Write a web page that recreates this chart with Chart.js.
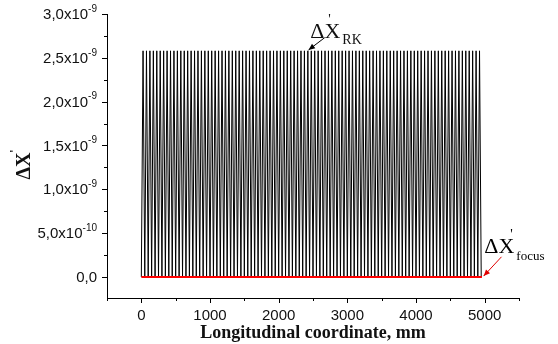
<!DOCTYPE html>
<html>
<head>
<meta charset="UTF-8">
<title>Delta X</title>
<script src="https://cdn.jsdelivr.net/npm/chart.js"></script>
<style>
body { margin: 0; background: #fff; }
</style>
</head>
<body>
<canvas id="myChart" width="558" height="344"></canvas>
<script>
// x ticks (mm)
const coordTicks = [0, 1000, 2000, 3000, 4000, 5000];
const coordMinor = [-500, 500, 1500, 2500, 3500, 4500, 5500];
// y ticks
const yTicks = [0, 5e-10, 1e-9, 1.5e-9, 2e-9, 2.5e-9, 3e-9];
const yTickBase = ['0,0', '5,0x10', '1,0x10', '1,5x10', '2,0x10', '2,5x10', '3,0x10'];
const yTickExp = ['', '-10', '-9', '-9', '-9', '-9', '-9'];
const yMinor = [2.5e-10, 7.5e-10, 1.25e-9, 1.75e-9, 2.25e-9, 2.75e-9];

// RK curve: lows and highs of the oscillation (mm)
const troughMm = [
  0, 50, 100, 150, 200, 250, 300, 350, 400, 450,
  500, 550, 600, 650, 700, 750, 800, 850, 900, 950,
  1000, 1050, 1100, 1150, 1200, 1250, 1300, 1350, 1400, 1450,
  1500, 1550, 1600, 1650, 1700, 1750, 1800, 1850, 1900, 1950,
  2000, 2050, 2100, 2150, 2200, 2250, 2300, 2350, 2400, 2450,
  2500, 2550, 2600, 2650, 2700, 2750, 2800, 2850, 2900, 2950,
  3000, 3050, 3100, 3150, 3200, 3250, 3300, 3350, 3400, 3450,
  3500, 3550, 3600, 3650, 3700, 3750, 3800, 3850, 3900, 3950,
  4000, 4050, 4100, 4150, 4200, 4250, 4300, 4350, 4400, 4450,
  4500, 4550, 4600, 4650, 4700, 4750, 4800, 4850, 4900, 4950
];
const crestMm = [
  25, 75, 125, 175, 225, 275, 325, 375, 425, 475,
  525, 575, 625, 675, 725, 775, 825, 875, 925, 975,
  1025, 1075, 1125, 1175, 1225, 1275, 1325, 1375, 1425, 1475,
  1525, 1575, 1625, 1675, 1725, 1775, 1825, 1875, 1925, 1975,
  2025, 2075, 2125, 2175, 2225, 2275, 2325, 2375, 2425, 2475,
  2525, 2575, 2625, 2675, 2725, 2775, 2825, 2875, 2925, 2975,
  3025, 3075, 3125, 3175, 3225, 3275, 3325, 3375, 3425, 3475,
  3525, 3575, 3625, 3675, 3725, 3775, 3825, 3875, 3925, 3975,
  4025, 4075, 4125, 4175, 4225, 4275, 4325, 4375, 4425, 4475,
  4525, 4575, 4625, 4675, 4725, 4775, 4825, 4875, 4925
];
const rkTrough = 0;
const rkCrest = 2.58e-9;

// focus curve
const focusMm = [0, 4960];
const focusVal = [0, 0];

let rkPoints = [];
troughMm.forEach(function(x, i){
  rkPoints.push({x: x, y: rkTrough});
  if (i < crestMm.length) rkPoints.push({x: crestMm[i], y: rkCrest});
});
const focusPoints = focusMm.map((x, i) => ({x: x, y: focusVal[i]}));

const SANS = '"Liberation Sans", Arial, sans-serif';
const SERIF = '"Liberation Serif", "Times New Roman", serif';

// draws ticks, labels, titles and the two arrows
const decor = {
  id: 'decor',
  afterDraw(chart) {
    const ctx = chart.ctx;
    const x = chart.scales.x, y = chart.scales.y;
    const a = chart.chartArea;
    ctx.save();
    ctx.strokeStyle = '#000';
    ctx.lineWidth = 1;
    ctx.beginPath();
    coordTicks.forEach(v => { let px = Math.round(x.getPixelForValue(v)) + 0.5; ctx.moveTo(px, a.bottom); ctx.lineTo(px, a.bottom + 5); });
    coordMinor.forEach(v => { let px = Math.round(x.getPixelForValue(v)) + 0.5; ctx.moveTo(px, a.bottom); ctx.lineTo(px, a.bottom + 3); });
    yTicks.forEach(v => { let py = Math.round(y.getPixelForValue(v)) + 0.5; ctx.moveTo(a.left, py); ctx.lineTo(a.left - 5, py); });
    yMinor.forEach(v => { let py = Math.round(y.getPixelForValue(v)) + 0.5; ctx.moveTo(a.left, py); ctx.lineTo(a.left - 3, py); });
    ctx.stroke();

    ctx.fillStyle = '#111';
    // x tick labels
    ctx.font = '15px ' + SANS;
    ctx.textAlign = 'center';
    ctx.textBaseline = 'middle';
    coordTicks.forEach(v => ctx.fillText(String(v), x.getPixelForValue(v), a.bottom + 18));

    // y tick labels with exponent
    const right = a.left - 10;
    yTicks.forEach((v, i) => {
      let py = y.getPixelForValue(v) + 1;
      ctx.font = '10px ' + SANS;
      let ew = yTickExp[i] ? ctx.measureText(yTickExp[i]).width : 0;
      ctx.textAlign = 'right';
      ctx.textBaseline = 'middle';
      if (yTickExp[i]) ctx.fillText(yTickExp[i], right, py - 6);
      ctx.font = '15px ' + SANS;
      ctx.fillText(yTickBase[i], right - ew, py);
    });

    // x title
    ctx.font = 'bold 18px ' + SERIF;
    ctx.textAlign = 'center';
    ctx.textBaseline = 'middle';
    ctx.fillText('Longitudinal coordinate, mm', (a.left + a.right) / 2, 333);

    // y title
    ctx.save();
    ctx.translate(25, 166);
    ctx.rotate(-Math.PI / 2);
    ctx.font = 'bold 20px ' + SERIF;
    ctx.textAlign = 'center';
    ctx.fillText('\u0394X', 0, 0);
    ctx.font = 'bold 13px ' + SERIF;
    ctx.textAlign = 'left';
    ctx.fillText('\'', 13, -10);
    ctx.restore();

    // RK label and arrow
    ctx.fillStyle = '#111';
    ctx.textAlign = 'left';
    ctx.textBaseline = 'alphabetic';
    let lx = x.getPixelForValue(2460), ly = y.getPixelForValue(2.73e-9);
    ctx.font = '22px ' + SERIF;
    ctx.fillText('\u0394X', lx, ly);
    let w = ctx.measureText('\u0394X').width;
    ctx.font = '14px ' + SERIF;
    ctx.fillText('\'', lx + w - 12, ly - 14);
    ctx.fillText('RK', lx + w + 2, ly + 6);
    arrow(ctx, x.getPixelForValue(2670), y.getPixelForValue(2.73e-9), x.getPixelForValue(2435), y.getPixelForValue(2.59e-9), '#000');

    // focus label and arrow
    let fx = x.getPixelForValue(4995), fy = y.getPixelForValue(2.72e-10);
    ctx.font = '22px ' + SERIF;
    ctx.fillText('\u0394X', fx, fy);
    w = ctx.measureText('\u0394X').width;
    ctx.font = '14px ' + SERIF;
    ctx.fillText('\'', fx + w - 4, fy - 14);
    ctx.font = '13px ' + SERIF;
    ctx.fillText('focus', fx + w + 2, fy + 7);
    arrow(ctx, x.getPixelForValue(5245), y.getPixelForValue(2.3e-10), x.getPixelForValue(4985), y.getPixelForValue(1e-11), '#e00000');
    ctx.restore();
  }
};

function arrow(ctx, x1, y1, x2, y2, col) {
  ctx.strokeStyle = col;
  ctx.fillStyle = col;
  ctx.lineWidth = 1;
  ctx.beginPath();
  ctx.moveTo(x1, y1);
  ctx.lineTo(x2, y2);
  ctx.stroke();
  let ang = Math.atan2(y2 - y1, x2 - x1);
  ctx.beginPath();
  ctx.moveTo(x2, y2);
  ctx.lineTo(x2 - 7 * Math.cos(ang - 0.4), y2 - 7 * Math.sin(ang - 0.4));
  ctx.lineTo(x2 - 7 * Math.cos(ang + 0.4), y2 - 7 * Math.sin(ang + 0.4));
  ctx.closePath();
  ctx.fill();
}

const ctx = document.getElementById('myChart').getContext('2d');
const myChart = new Chart(ctx, {
  type: 'line',
  data: {
    datasets: [{
      label: 'RK',
      data: rkPoints,
      borderColor: '#000',
      borderWidth: 1,
      pointRadius: 0,
      tension: 0,
      order: 2
    }, {
      label: 'focus',
      data: focusPoints,
      borderColor: '#ff0000',
      borderWidth: 2,
      pointRadius: 0,
      order: 1
    }]
  },
  options: {
    responsive: false,
    animation: false,
    devicePixelRatio: 1,
    layout: { padding: { left: 107, right: 39, top: 14, bottom: 46 } },
    plugins: { legend: { display: false }, tooltip: { enabled: false } },
    scales: {
      x: {
        type: 'linear',
        min: -500,
        max: 5500,
        ticks: { display: false },
        grid: { display: false, drawTicks: false },
        border: { display: true, color: '#000', width: 1 }
      },
      y: {
        min: -2.4e-10,
        max: 3e-9,
        ticks: { display: false },
        grid: { display: false, drawTicks: false },
        border: { display: true, color: '#000', width: 1 }
      }
    }
  },
  plugins: [decor]
});
</script>
</body>
</html>
